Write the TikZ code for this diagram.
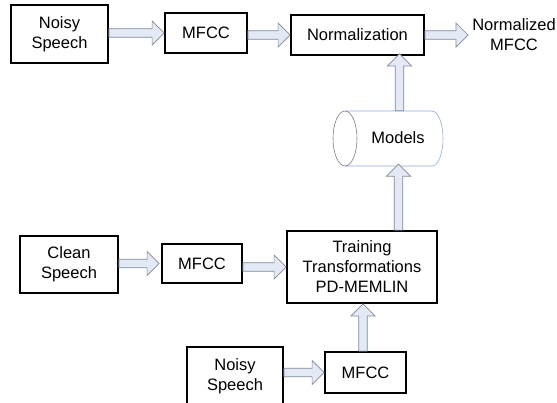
\documentclass[tikz,border=0pt]{standalone}
\usepackage{fontspec}
\setmainfont{Liberation Sans}
\usetikzlibrary{calc}
\definecolor{arrowfill}{HTML}{E3EAF5}
\definecolor{arrowline}{HTML}{808A99}
\definecolor{cylblue}{HTML}{8FAADC}
\definecolor{cylgray}{HTML}{7F7F7F}
\tikzset{
  box/.style={draw=black, line width=1.8pt, inner sep=0pt, align=center,
    font=\fontsize{16.5}{20}\selectfont},
  plain/.style={inner sep=0pt, align=center, font=\fontsize{16.5}{20}\selectfont},
  harrow/.style={draw=arrowline, fill=arrowfill, line width=0.7pt, line join=miter,
    to path={let \p1=(\tikztostart), \p2=(\tikztotarget) in
      (\x1,\y2+4.3pt) -- (\x2-12pt,\y2+4.3pt) -- (\x2-12pt,\y2+12pt) -- (\x2,\y2)
      -- (\x2-12pt,\y2-12pt) -- (\x2-12pt,\y2-4.3pt) -- (\x1,\y2-4.3pt) -- cycle}},
  varrow/.style={draw=arrowline, fill=arrowfill, line width=0.7pt, line join=miter,
    to path={let \p1=(\tikztostart), \p2=(\tikztotarget) in
      (\x2-4.3pt,\y1) -- (\x2-4.3pt,\y2-12pt) -- (\x2-12pt,\y2-12pt) -- (\x2,\y2)
      -- (\x2+12pt,\y2-12pt) -- (\x2+4.3pt,\y2-12pt) -- (\x2+4.3pt,\y1) -- cycle}},
}
\begin{document}
\begin{tikzpicture}[x=1pt,y=-1pt]
\clip (0,0) rectangle (557,402);
\fill[white] (0,0) rectangle (557,402);

% top row
\node[box, minimum width=97pt, minimum height=58pt] (ns1) at (59.5,34) {Noisy\\Speech};
\node[box, minimum width=82pt, minimum height=40pt] (mfcc1) at (206,33) {MFCC};
\node[box, minimum width=133pt, minimum height=40pt] (norm) at (357.5,35) {Normalization};
\node[plain] (out) at (514,35) {Normalized\\MFCC};
\coordinate (outtip) at (468,35);

% models cylinder
\node[plain, minimum width=110pt, minimum height=55pt] (models) at (388,138.5) {};
\draw[cylblue, line width=0.6pt] (345,111) -- (432,111)
  arc[start angle=90, end angle=-90, x radius=11pt, y radius=27.5pt] -- (345,166);
\draw[cylgray, line width=0.6pt] (345,138.5) ellipse [x radius=12pt, y radius=27.5pt];
\node[plain] (modelstext) at (398,138) {Models};

% lower part
\node[box, minimum width=98pt, minimum height=57pt] (clean) at (69,264.5) {Clean\\Speech};
\node[box, minimum width=80pt, minimum height=39pt] (mfcc2) at (202,263.5) {MFCC};
\node[box, minimum width=150pt, minimum height=72pt] (train) at (362,267) {Training\\Transformations\\PD-MEMLIN};
\node[box, minimum width=96pt, minimum height=58pt] (ns2) at (235,376) {Noisy\\Speech};
\node[box, minimum width=81pt, minimum height=41pt] (mfcc3) at (365.5,372.5) {MFCC};

\coordinate (cx1) at (399.5,0);
\coordinate (cx2) at (398.5,0);
\coordinate (cx3) at (363,0);

% arrows
\draw[harrow] (ns1.east) to (mfcc1.west);
\draw[harrow] (mfcc1.east) to (norm.west);
\draw[harrow] (norm.east) to (outtip);
\draw[varrow] (models.north -| cx1) to ($(norm.south -| cx1)+(0,-2)$);
\draw[varrow] (train.north -| cx2) to ($(models.south -| cx2)+(0,-2)$);
\draw[harrow] (clean.east) to ($(mfcc2.west)+(-2,0)$);
\draw[harrow] (mfcc2.east) to (train.west);
\draw[varrow] (mfcc3.north -| cx3) to (train.south -| cx3);
\draw[harrow] (ns2.east) to (mfcc3.west);
\end{tikzpicture}
\end{document}
